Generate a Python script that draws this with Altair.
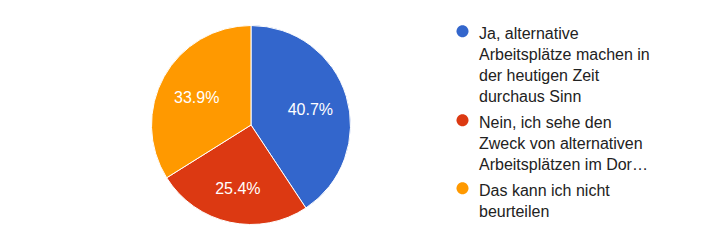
import altair as alt
import pandas as pd

# ---- data ----
legend_lines = [
    ["Ja, alternative", "Arbeitsplätze machen in", "der heutigen Zeit", "durchaus Sinn"],
    ["Nein, ich sehe den", "Zweck von alternativen", "Arbeitsplätzen im Dor…"],
    ["Das kann ich nicht", "beurteilen"],
]
shares = [40.7, 25.4, 33.9]
slice_labels = ["40.7%", "25.4%", "33.9%"]
slice_colors = ["#3366CC", "#DC3912", "#FF9900"]

answers = ["|".join(lines) for lines in legend_lines]

df = pd.DataFrame({
    "answer": answers,
    "share": shares,
    "label": slice_labels,
    "order": list(range(len(answers))),
})

color_scale = alt.Scale(domain=answers, range=slice_colors)

# circle symbol nudged down so that it lines up with the first label line
symbol_path = "M 1 0.87 A 1 1 0 1 1 -1 0.87 A 1 1 0 1 1 1 0.87 Z"

base = alt.Chart(df).encode(
    theta=alt.Theta("share:Q", stack=True),
    order=alt.Order("order:Q"),
)

arcs = base.mark_arc(outerRadius=99.5, stroke="white", strokeWidth=1).encode(
    color=alt.Color(
        "answer:N",
        scale=color_scale,
        sort=answers,
        legend=alt.Legend(
            title=None,
            orient="none",
            legendX=303.5,
            legendY=-7,
            labelExpr="split(datum.label, '|')",
            labelFont="Liberation Sans",
            labelFontSize=16,
            labelColor="#222222",
            labelBaseline="top",
            labelLimit=300,
            labelOffset=8.5,
            symbolType=symbol_path,
            symbolSize=144,
            symbolStrokeWidth=0,
            rowPadding=2,
        ),
    )
)

texts = base.mark_text(
    radius=62, dy=3, color="white", font="Liberation Sans", fontSize=16
).encode(
    text="label:N",
    detail="answer:N",
)

chart = (
    alt.layer(arcs, texts)
    .properties(
        width=200,
        height=200,
        padding={"left": 151, "top": 25, "right": 371, "bottom": 25},
        autosize=alt.AutoSizeParams(type="none"),
    )
    .configure_view(stroke=None)
    .configure(background="white", style={"guide-label": {"lineHeight": 21}})
)

chart.save("out.html", embed_options={"renderer": "svg", "actions": False})
